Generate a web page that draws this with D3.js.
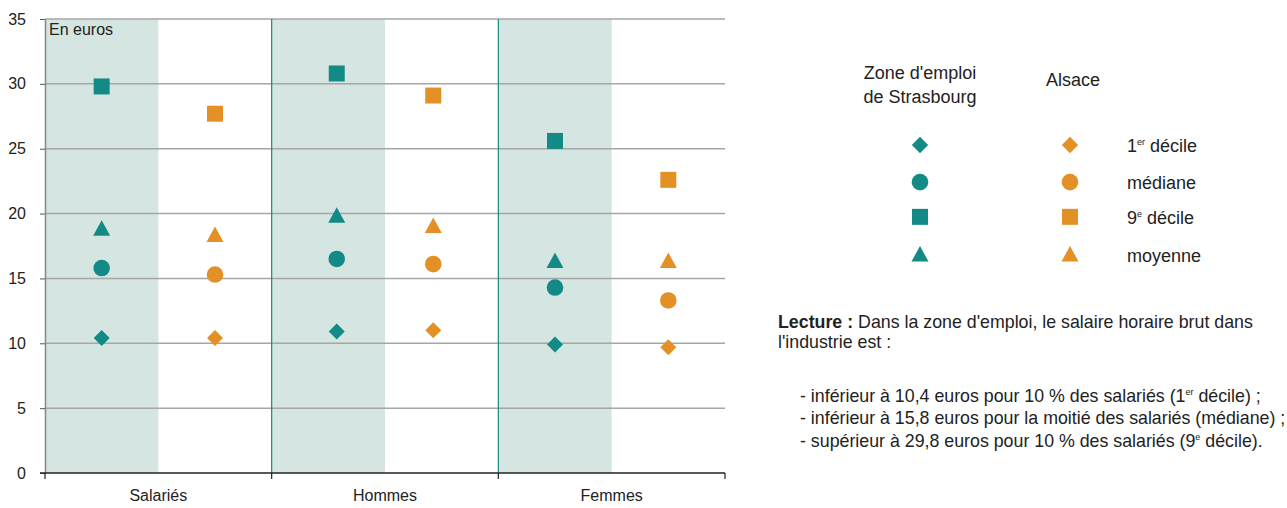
<!DOCTYPE html>
<html lang="fr">
<head>
<meta charset="UTF-8">
<title>Salaire horaire brut dans l'industrie</title>
<script src="https://d3js.org/d3.v7.min.js"></script>
<style>
  body { margin: 0; background: #fff; }
  svg { font-family: "Liberation Sans", Arial, sans-serif; }
</style>
</head>
<body>
<div id="chart"></div>
<script>
// Data
const categories = ["Salariés", "Hommes", "Femmes"];
const zones = ["Zone d'emploi de Strasbourg", "Alsace"];
const stats = ["decile1", "mediane", "decile9", "moyenne"];
const statLabels = ["1|er| décile", "médiane", "9|e| décile", "moyenne"];
// values per stat, one per category
const strasbourg = {
    decile1: [10.4, 10.9, 9.9],
    mediane: [15.8, 16.5, 14.3],
    decile9: [29.8, 30.8, 25.6],
    moyenne: [18.8, 19.8, 16.3]
};
const alsace = {
    decile1: [10.4, 11.0, 9.7],
    mediane: [15.3, 16.1, 13.3],
    decile9: [27.7, 29.1, 22.6],
    moyenne: [18.3, 19.0, 16.3]
};
const yTicks = [0, 5, 10, 15, 20, 25, 30, 35];

const teal = "#138a85", orange = "#e39027", shade = "#d5e5e1";
const colors = [teal, orange];
const W = 1287, H = 508;
const margin = {top: 19, left: 45};
const plotW = 680, plotH = 454;
// markers of the middle group sit a bit closer together in the original
const squeeze = [0, 8.4, 0];

const svg = d3.select("#chart").append("svg")
    .attr("width", W).attr("height", H);
const g = svg.append("g").attr("transform", `translate(${margin.left},${margin.top})`);

const x = d3.scaleBand().domain(categories).range([0, plotW]);
const sub = d3.scaleBand().domain([0, 1]).range([0, x.bandwidth()]);
const y = d3.scaleLinear().domain([0, 35]).range([plotH, 0]);

// shaded halves
g.selectAll("rect.shade").data(categories).join("rect")
    .attr("class", "shade")
    .attr("x", d => x(d)).attr("y", 0)
    .attr("width", sub.bandwidth()).attr("height", plotH)
    .attr("fill", shade);

// gridlines
g.selectAll("line.grid").data(yTicks.filter(t => t > 0)).join("line")
    .attr("x1", 0).attr("x2", plotW)
    .attr("y1", d => y(d)).attr("y2", d => y(d))
    .attr("stroke", "#a6a6a6").attr("stroke-width", 1.5);

// teal separators
g.selectAll("line.sep").data(categories.slice(1)).join("line")
    .attr("x1", d => x(d)).attr("x2", d => x(d))
    .attr("y1", 0).attr("y2", plotH)
    .attr("stroke", teal).attr("stroke-width", 1.2);

// y axis
const yAxis = g.append("g")
    .call(d3.axisLeft(y).tickValues(yTicks).tickSize(5).tickPadding(14).tickSizeOuter(0));
yAxis.select(".domain").attr("stroke", "#888").attr("stroke-width", 1.5);
yAxis.selectAll(".tick line").attr("stroke", "#555");
yAxis.selectAll("text").attr("font-size", 16).attr("fill", "#222")
    .attr("font-family", "Liberation Sans, Arial, sans-serif");

// x axis
const xAxis = g.append("g").attr("transform", `translate(0,${plotH})`)
    .call(d3.axisBottom(x).tickSize(0).tickPadding(17));
xAxis.select(".domain").attr("stroke", "#222").attr("stroke-width", 1.3)
    .attr("d", `M-5,0H${plotW}`);
xAxis.selectAll("text").attr("font-size", 16).attr("fill", "#222")
    .attr("font-family", "Liberation Sans, Arial, sans-serif");
g.selectAll("line.xt").data(d3.range(categories.length + 1)).join("line")
    .attr("x1", i => i * x.step()).attr("x2", i => i * x.step())
    .attr("y1", plotH).attr("y2", plotH + 6)
    .attr("stroke", "#222").attr("stroke-width", 1.2);

g.append("text").attr("x", 4).attr("y", 16)
    .attr("font-size", 16).attr("fill", "#222").text("En euros");

// marker shapes, k = scale
function symPath(stat, k) {
    k = k || 1;
    if (stat === "decile1") { const r = 8 * k; return `M0,${-r}L${r},0L0,${r}L${-r},0Z`; }
    if (stat === "decile9") { const s = 16 * k; return `M${-s/2},${-s/2}h${s}v${s}h${-s}Z`; }
    if (stat === "mediane") { const r = 8.3 * k; return d3.symbol().type(d3.symbolCircle).size(Math.PI * r * r)(); }
    const w = 8.5 * k, t = 9 * k, b = 6.5 * k;
    return `M0,${-t}L${w},${b}L${-w},${b}Z`;
}

const points = [];
[strasbourg, alsace].forEach((src, zi) => {
    stats.forEach(st => {
        categories.forEach((c, ci) => {
            points.push({cat: c, ci: ci, zone: zi, stat: st, value: src[st][ci]});
        });
    });
});

g.selectAll("path.pt").data(points).join("path")
    .attr("class", "pt")
    .attr("transform", d => {
        const cx = x(d.cat) + sub(d.zone) + sub.bandwidth() / 2 + (d.zone ? -1 : 1) * squeeze[d.ci];
        return `translate(${cx},${y(d.value)})`;
    })
    .attr("d", d => symPath(d.stat))
    .attr("fill", d => colors[d.zone]);

// legend
const leg = svg.append("g").attr("font-size", 18).attr("fill", "#222");
const legX = [920, 1070];
leg.append("text").attr("text-anchor", "middle")
    .selectAll("tspan").data(["Zone d'emploi", "de Strasbourg"]).join("tspan")
    .attr("x", legX[0]).attr("y", (d, i) => 79 + i * 24).text(d => d);
leg.append("text").attr("x", legX[1] + 3).attr("y", 86).attr("text-anchor", "middle")
    .text(zones[1]);

const legY = d3.scalePoint().domain(stats).range([145, 255]);
const legYfix = {decile1: 0, mediane: 0.5, decile9: -1.5, moyenne: 0};
zones.forEach((z, zi) => {
    leg.selectAll(`path.l${zi}`).data(stats).join("path")
        .attr("class", `l${zi}`)
        .attr("transform", d => `translate(${legX[zi]},${legY(d) + legYfix[d]})`)
        .attr("d", d => symPath(d, d === "decile1" ? 1.02 : 1))
        .attr("fill", colors[zi]);
});
const lt = leg.selectAll("text.lab").data(stats).join("text")
    .attr("class", "lab")
    .attr("x", 1127).attr("y", d => legY(d) + legYfix[d] + 7);
lt.each(function(d, i) {
    const parts = statLabels[i].split("|");
    const t = d3.select(this);
    t.append("tspan").text(parts[0]);
    if (parts.length > 1) {
        t.append("tspan").attr("font-size", 9).attr("dy", -7).text(parts[1]);
        t.append("tspan").attr("dy", 7).text(parts[2]);
    }
});

// reading note
const note = svg.append("g").attr("font-size", 17.8).attr("fill", "#222");
const l1 = note.append("text").attr("x", 778).attr("y", 328);
l1.append("tspan").attr("font-weight", "bold").text("Lecture :");
l1.append("tspan").text(" Dans la zone d'emploi, le salaire horaire brut dans");
note.append("text").attr("x", 778).attr("y", 348).text("l'industrie est :");

const bullets = [
    ["- inférieur à 10,4 euros pour 10 % des salariés (1", "er", " décile) ;"],
    ["- inférieur à 15,8 euros pour la moitié des salariés (médiane) ;"],
    ["- supérieur à 29,8 euros pour 10 % des salariés (9", "e", " décile)."]
];
bullets.forEach((b, i) => {
    const t = note.append("text").attr("x", 800).attr("y", 401.5 + i * 22.7);
    t.append("tspan").text(b[0]);
    if (b.length > 1) {
        t.append("tspan").attr("font-size", 9).attr("dy", -7).text(b[1]);
        t.append("tspan").attr("dy", 7).text(b[2]);
    }
});
</script>
</body>
</html>
